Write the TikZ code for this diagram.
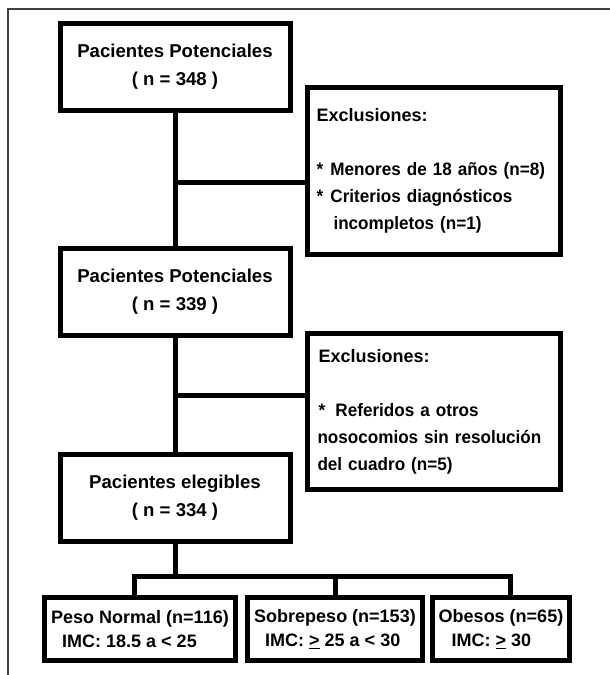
\documentclass[tikz,border=0pt]{standalone}
\usepackage{fontspec}
\setmainfont{Liberation Sans}
\newfontfamily\estrecha[FakeStretch=0.95]{Liberation Sans}
\begin{document}
\begin{tikzpicture}[x=1pt,y=-1pt,
        caja/.style={draw,line width=5pt,align=center,
            font=\bfseries\fontsize{18.6}{28}\selectfont,
            minimum width=230pt,minimum height=87pt},
        excl/.style={draw,line width=5pt,align=left,
            font=\bfseries\fontsize{18}{27}\selectfont,
            text width=241pt,inner xsep=6pt,minimum height=#1},
        grupo/.style={draw,line width=5pt,align=left,
            font=\bfseries\fontsize{18}{24}\selectfont,
            minimum height=63pt,minimum width=#1},
        linea/.style={line width=5pt}]
    \useasboundingbox (0,0) rectangle (610,675);
    \draw[black!75,line width=1.5pt] (8,675) -- (8,9) -- (610,9);

    \node[caja] (pot1) at (175,67) {Pacientes Potenciales\\( n = 348 )};
    \node[caja] (pot2) at (175,292) {Pacientes Potenciales\\( n = 339 )};
    \node[caja] (eleg) at (175,497.5) {Pacientes elegibles\\( n = 334 )};

    \node[excl=167pt] (excl1) at (434,171) {\hspace*{3pt}Exclusiones:\\[27pt]\estrecha
        \hspace*{3pt}\makebox[14pt][l]{*}Menores de 18 años (n=8)\\
        \hspace*{3pt}\makebox[14pt][l]{*}Criterios diagnósticos\\
        \hspace*{20pt}incompletos (n=1)};
    \node[excl=156pt] (excl2) at (434,411.5) {\hspace*{5pt}Exclusiones:\\[27pt]\estrecha
        \hspace*{5pt}\makebox[17pt][l]{*}Referidos a otros\\
        \hspace*{4pt}nosocomios sin resolución\\
        \hspace*{4pt}del cuadro (n=5)};

    \node[grupo=191pt] (normal) at (140,629)
        {Peso Normal (n=116)\\\hspace*{11pt}IMC: 18.5 a < 25};
    \node[grupo=175pt] (sobre) at (335,629)
        {Sobrepeso (n=153)\\\hspace*{11pt}IMC: \underline{>} 25 a < 30};
    \node[grupo=137pt] (obeso) at (501,629)
        {Obesos (n=65)\\\hspace*{13pt}IMC: \underline{>} 30};

    \coordinate (r1) at (175,182);
    \coordinate (r2) at (175,395);
    \coordinate (r3) at (175,576);
    \coordinate (bA) at (134,576);
    \coordinate (bC) at (510,576);

    \draw[linea] (pot1) -- (pot2);
    \draw[linea] (pot2) -- (eleg);
    \draw[linea] (r1) -- (r1 -| excl1.west);
    \draw[linea] (r2) -- (r2 -| excl2.west);
    \draw[linea] (eleg) -- (r3);
    \draw[linea] (bA |- normal.north) -- (bA) -- (bC) -- (bC |- obeso.north);
    \draw[linea] (sobre) -- (sobre |- r3);
\end{tikzpicture}
\end{document}
